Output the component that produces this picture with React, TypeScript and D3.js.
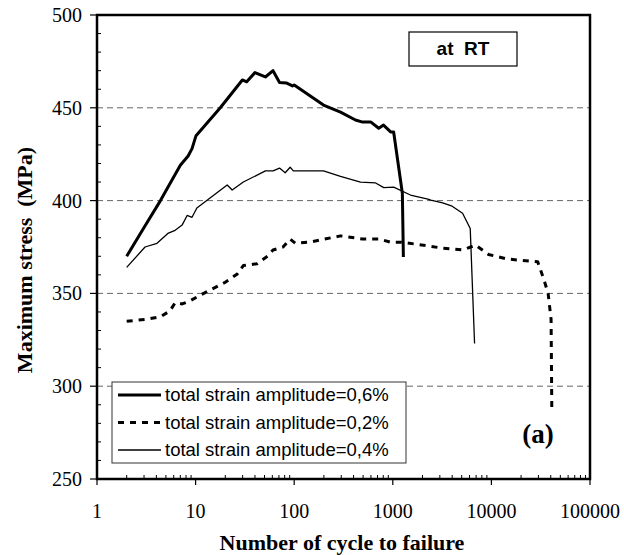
import React from "react";
import * as d3 from "d3";

// cycles (N) and max stress (MPa)
const cycles06 = [2, 3, 4.4, 7, 8.4, 9.2, 10.1, 17.8, 29.8, 33, 40, 51, 61, 71, 83, 96, 100, 185, 198, 295, 418, 494, 600, 720, 805, 950, 1020, 1250, 1280];
const stress06 = [370, 385.5, 400, 419, 424, 428, 435, 450, 465, 464, 469, 466.6, 470, 463.6, 463.4, 461.8, 462.3, 452.6, 451.5, 447.7, 443.4, 442.3, 442.3, 439, 440.7, 437, 437, 404, 369.6];

const cycles04 = [2, 3.07, 4.06, 5.3, 6.2, 7.3, 8.2, 9.2, 10.3, 20.9, 23.5, 30.5, 51, 61, 71, 81, 91, 98, 198, 295, 470, 670, 810, 1020, 1510, 2270, 2430, 3200, 4000, 5100, 6100, 6750];
const stress04 = [364, 375, 377, 382.5, 384, 386.8, 392, 391, 396, 408.4, 405.7, 410, 416, 416, 417.5, 415, 418, 416, 416, 413, 410, 409.5, 407, 407.3, 403, 400.8, 400.3, 398.8, 397, 393.2, 385, 323];

const cycles02 = [2, 3.07, 4.4, 5.5, 6.2, 7.3, 8.8, 11.1, 14, 20, 26.5, 30.5, 42, 53.6, 61, 77, 91, 103, 146, 295, 494, 720, 950, 1200, 2050, 3070, 5100, 6900, 9350, 14600, 29500, 34300, 37600, 40300, 41000];
const stress02 = [335, 336, 337.4, 340.6, 345, 344.3, 346, 349, 351.8, 356, 360.5, 365, 366, 370, 373.4, 375, 379.3, 377, 377.7, 381, 379.3, 379.3, 377.6, 377.6, 376, 374.5, 373.4, 376, 371, 368.5, 367, 357, 350, 336, 287];

const xTicks = [1, 10, 100, 1000, 10000, 100000];
const yTicks = [250, 300, 350, 400, 450, 500];
const gridValues = [300, 350, 400, 450];

const seriesLabels = [
  "total strain amplitude=0,6%",
  "total strain amplitude=0,2%",
  "total strain amplitude=0,4%",
];

const W = 624;
const H = 555;
const left = 97, right = 590, top = 15, bottom = 479;

export default function App() {
  const x = d3.scaleLog().domain([1, 100000]).range([left, right]);
  const y = d3.scaleLinear().domain([250, 500]).range([bottom, top]);

  const line = d3
    .line<[number, number]>()
    .x((d) => x(d[0]))
    .y((d) => y(d[1]));

  const zip = (a: number[], b: number[]) => a.map((v, i) => [v, b[i]] as [number, number]);

  const series = [
    { pts: zip(cycles06, stress06), width: 3, dash: undefined as string | undefined },
    { pts: zip(cycles02, stress02), width: 3, dash: "6 6" },
    { pts: zip(cycles04, stress04), width: 1.3, dash: undefined },
  ];

  const minorX: number[] = [];
  for (let dec = 1; dec < 100000; dec *= 10) {
    for (let k = 2; k <= 9; k++) minorX.push(dec * k);
  }
  const minorY = d3.range(260, 500, 10).filter((v) => v % 50 !== 0);

  const serif = "'Liberation Serif', 'Times New Roman', serif";
  const sans = "'Liberation Sans', Arial, sans-serif";

  return (
    <svg width={W} height={H} style={{ position: "absolute", left: 0, top: 0, background: "#fff" }}>
      <rect x={0} y={0} width={W} height={H} fill="#fff" />
      {gridValues.map((v) => (
        <line key={"g" + v} x1={left} x2={right} y1={y(v)} y2={y(v)} stroke="#666" strokeWidth={1} strokeDasharray="6 4" />
      ))}

      {series.map((s, i) => (
        <path key={i} d={line(s.pts) || ""} fill="none" stroke="#000" strokeWidth={s.width} strokeDasharray={s.dash} strokeLinejoin="round" />
      ))}

      {/* frame */}
      <rect x={left} y={top} width={right - left} height={bottom - top} fill="none" stroke="#000" strokeWidth={2.5} />

      {/* y ticks */}
      {yTicks.map((v) => (
        <g key={"y" + v}>
          <line x1={left - 7} x2={left} y1={y(v)} y2={y(v)} stroke="#000" strokeWidth={1.2} />
          <text x={82} y={y(v)} dy="0.35em" textAnchor="end" fontFamily={serif} fontSize={20}>{v}</text>
        </g>
      ))}
      {minorY.map((v) => (
        <line key={"my" + v} x1={left} x2={left + 4} y1={y(v)} y2={y(v)} stroke="#000" strokeWidth={1} />
      ))}

      {/* x ticks */}
      {xTicks.map((v) => (
        <g key={"x" + v}>
          <line x1={x(v)} x2={x(v)} y1={bottom} y2={bottom + 6} stroke="#000" strokeWidth={1.2} />
          <text x={x(v)} y={518} textAnchor="middle" fontFamily={serif} fontSize={20}>{v}</text>
        </g>
      ))}
      {minorX.map((v) => (
        <line key={"mx" + v} x1={x(v)} x2={x(v)} y1={bottom} y2={bottom - 4} stroke="#000" strokeWidth={1} />
      ))}

      {/* axis titles */}
      <text x={342} y={550} textAnchor="middle" fontFamily={serif} fontWeight="bold" fontSize={22}>Number of cycle to failure</text>
      <text transform="translate(32,260) rotate(-90)" textAnchor="middle" fontFamily={serif} fontWeight="bold" fontSize={22} style={{ whiteSpace: "pre" }}>{"Maximum stress  (MPa)"}</text>

      {/* at RT box */}
      <rect x={409} y={32} width={108} height={34} fill="#fff" stroke="#000" strokeWidth={1.2} />
      <text x={463} y={55} textAnchor="middle" fontFamily={sans} fontWeight="bold" fontSize={19} style={{ whiteSpace: "pre" }}>{"at  RT"}</text>

      {/* (a) */}
      <text x={538} y={443} textAnchor="middle" fontFamily={serif} fontWeight="bold" fontSize={27}>(a)</text>

      {/* legend */}
      <rect x={112} y={382} width={294} height={81} fill="#fff" stroke="#333" strokeWidth={1} />
      {series.map((s, i) => {
        const ly = 395 + i * 27.5;
        return (
          <g key={"l" + i}>
            <line x1={118} x2={161} y1={ly} y2={ly} stroke="#000" strokeWidth={s.width} strokeDasharray={s.dash} />
            <text x={165} y={ly} dy="0.35em" fontFamily={sans} fontSize={18.5}>{seriesLabels[i]}</text>
          </g>
        );
      })}
    </svg>
  );
}
